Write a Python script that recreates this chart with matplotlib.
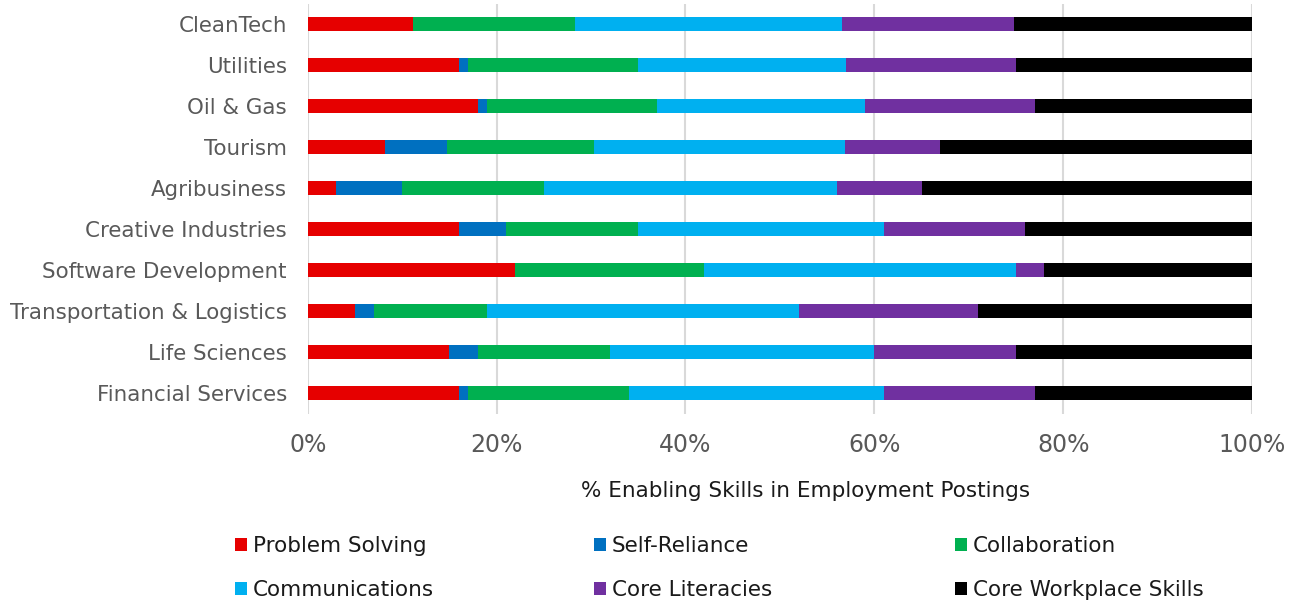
import numpy as np
import matplotlib
matplotlib.use("Agg")
import matplotlib.pyplot as plt
from matplotlib.ticker import PercentFormatter

industries = ["CleanTech", "Utilities", "Oil & Gas", "Tourism", "Agribusiness",
              "Creative Industries", "Software Development",
              "Transportation & Logistics", "Life Sciences", "Financial Services"]

skills = ["Problem Solving", "Self-Reliance", "Collaboration",
          "Communications", "Core Literacies", "Core Workplace Skills"]

problem_solving = [11.1, 16, 18, 8.2, 3, 16, 22, 5, 15, 16]
self_reliance = [0, 1, 1, 6.5, 7, 5, 0, 2, 3, 1]
collaboration = [17.2, 18, 18, 15.6, 15, 14, 20, 12, 14, 17]
communications = [28.3, 22, 22, 26.6, 31, 26, 33, 33, 28, 27]
core_literacies = [18.2, 18, 18, 10.1, 9, 15, 3, 19, 15, 16]
core_workplace = [25.2, 25, 23, 33, 35, 24, 22, 29, 25, 23]

colors = ["#E60000", "#0070C0", "#00B050", "#00B0F0", "#7030A0", "#000000"]

vals = np.array([problem_solving, self_reliance, collaboration,
                 communications, core_literacies, core_workplace], dtype=float)
vals = vals / vals.sum(axis=0) * 100  # 100% stacked

fig = plt.figure(figsize=(13.05, 6.05), dpi=100)
ax = fig.add_axes([0.2358, 0.3165, 0.7236, 0.6777])

y = np.arange(len(industries))
left = np.zeros(len(industries))
bars = []
for i, name in enumerate(skills):
    b = ax.barh(y, vals[i], left=left, height=0.36, color=colors[i],
                label=name, linewidth=0, zorder=3)
    bars.append(b)
    left += vals[i]

ax.set_ylim(len(industries) - 0.5, -0.5)
ax.set_xlim(0, 100)
ax.set_xticks(np.arange(0, 101, 20))
ax.xaxis.set_major_formatter(PercentFormatter(decimals=0))
ax.set_yticks(y)
ax.set_yticklabels(industries)

ax.grid(axis="x", color="#D9D9D9", linewidth=1.5, zorder=0)
for s in ax.spines.values():
    s.set_visible(False)
ax.tick_params(axis="both", length=0)
ax.tick_params(axis="y", labelsize=15.4, labelcolor="#595959", pad=15)
ax.tick_params(axis="x", labelsize=17, labelcolor="#595959", pad=14)

ax.set_xlabel("% Enabling Skills in Employment Postings", fontsize=15.5,
              color="#1a1a1a", x=0.527, labelpad=17)

# legend laid out as 3 columns x 2 rows, row-major
col_x = [235, 594, 955]
for j in range(3):
    lg = fig.legend(handles=[bars[j], bars[j + 3]], labels=[skills[j], skills[j + 3]],
                    loc="center left", bbox_to_anchor=(col_x[j] / 1305, 1 - 568 / 605),
                    frameon=False, fontsize=15.5, borderpad=0, borderaxespad=0,
                    handlelength=0.58, handleheight=0.58, handletextpad=0.25,
                    labelspacing=1.12, labelcolor="#1a1a1a")

fig.savefig("out.png", dpi=100)
